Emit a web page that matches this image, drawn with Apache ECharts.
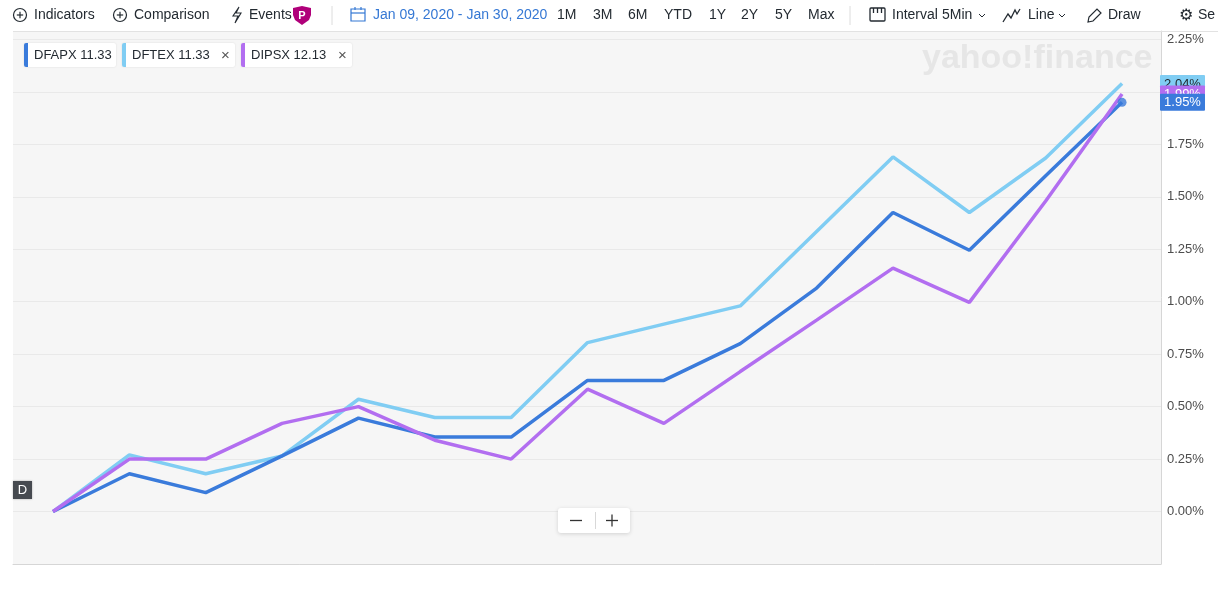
<!DOCTYPE html>
<html><head><meta charset="utf-8">
<script src="https://cdn.jsdelivr.net/npm/echarts@6/dist/echarts.min.js"></script>
<style>html,body{margin:0;padding:0;background:#fff}#c{width:1218px;height:608px}</style>
</head><body><div id="c"></div>
<script>
// ---- data ----
const dates = ['Jan 09','Jan 10','Jan 13','Jan 14','Jan 15','Jan 16','Jan 17','Jan 21','Jan 22','Jan 23','Jan 24','Jan 27','Jan 28','Jan 29','Jan 30'];
const DFAPX = [0, 0.18, 0.09, 0.265, 0.445, 0.355, 0.355, 0.625, 0.625, 0.80, 1.065, 1.425, 1.245, 1.60, 1.95];
const DFTEX = [0, 0.27, 0.18, 0.265, 0.535, 0.448, 0.448, 0.805, 0.893, 0.98, 1.335, 1.69, 1.425, 1.685, 2.04];
const DIPSX = [0, 0.25, 0.25, 0.42, 0.50, 0.34, 0.25, 0.583, 0.42, 0.667, 0.912, 1.16, 0.997, 1.48, 1.99];
const seriesNames = ['DFAPX', 'DFTEX', 'DIPSX'];
const prices = ['11.33', '11.33', '12.13'];
const yTickStep = 0.25;
const rangeButtons = ['1M','3M','6M','YTD','1Y','2Y','5Y','Max'];

const C_DFAPX = '#3a7bdb', C_DFTEX = '#80cdf3', C_DIPSX = '#b26ef0';
const FONT = '"Liberation Sans", Arial, sans-serif';
const TXT = '#232a31';

const pairs = arr => arr.map((v, i) => [i, v]);

const chart = echarts.init(document.getElementById('c'));

// ---- toolbar / decorations ----
const g = [];
function text(x, y, s, opt) {
  g.push(Object.assign({type:'text', x, y, style:Object.assign({text:s, fill:TXT, font:'14px ' + FONT, verticalAlign:'middle'}, opt||{}), z:10}));
}
function circlePlus(cx, cy) {
  g.push({type:'circle', shape:{cx, cy, r:6.5}, style:{fill:'none', stroke:TXT, lineWidth:1.2}, z:10});
  g.push({type:'line', shape:{x1:cx-3.2, y1:cy, x2:cx+3.2, y2:cy}, style:{stroke:TXT, lineWidth:1.2}, z:10});
  g.push({type:'line', shape:{x1:cx, y1:cy-3.2, x2:cx, y2:cy+3.2}, style:{stroke:TXT, lineWidth:1.2}, z:10});
}
const TY = 15;
circlePlus(20, TY); text(34, TY, 'Indicators');
circlePlus(120, TY); text(134, TY, 'Comparison');
// lightning
g.push({type:'polyline', shape:{points:[[239,7],[233,16],[238,16],[235,23],[241,13],[236,13],[239,7]]}, style:{fill:'none', stroke:TXT, lineWidth:1.1}, z:10});
text(249, TY, 'Events');
// shield P
g.push({type:'polygon', shape:{points:[[293,8],[302,6],[311,8],[311,15],[309,20],[302,25],[295,20],[293,15]]}, style:{fill:'#b0007a'}, z:10});
text(302, 15.5, 'P', {fill:'#fff', font:'bold 11px ' + FONT, align:'center'});
// separators
g.push({type:'line', shape:{x1:332, y1:6, x2:332, y2:25}, style:{stroke:'#dcdcdc', lineWidth:1}, z:10});
g.push({type:'line', shape:{x1:850, y1:6, x2:850, y2:25}, style:{stroke:'#dcdcdc', lineWidth:1}, z:10});
// calendar icon
g.push({type:'rect', shape:{x:351, y:9, width:14, height:12}, style:{fill:'none', stroke:'#3578d4', lineWidth:1.2}, z:10});
g.push({type:'line', shape:{x1:351, y1:13, x2:365, y2:13}, style:{stroke:'#3578d4', lineWidth:1.2}, z:10});
g.push({type:'line', shape:{x1:355, y1:7, x2:355, y2:10}, style:{stroke:'#3578d4', lineWidth:1.2}, z:10});
g.push({type:'line', shape:{x1:361, y1:7, x2:361, y2:10}, style:{stroke:'#3578d4', lineWidth:1.2}, z:10});
text(373, TY, 'Jan 09, 2020 - Jan 30, 2020', {fill:'#3578d4'});
const rbX = [557, 593, 628, 664, 709, 741, 775, 808];
rangeButtons.forEach((s, i) => text(rbX[i], TY, s));
// interval icon
g.push({type:'rect', shape:{x:870, y:8, width:15, height:13, r:1}, style:{fill:'none', stroke:TXT, lineWidth:1.3}, z:10});
[873.5, 877.5, 881.5].forEach(x => g.push({type:'line', shape:{x1:x, y1:8, x2:x, y2:13}, style:{stroke:TXT, lineWidth:1.3}, z:10}));
text(892, TY, 'Interval'); text(942, TY, '5Min');
g.push({type:'polyline', shape:{points:[[979,14],[982,17],[985,14]]}, style:{fill:'none', stroke:TXT, lineWidth:1}, z:10});
// line icon
g.push({type:'polyline', shape:{points:[[1003,22],[1008,14],[1011,18],[1015,10],[1017,14],[1020,9]]}, style:{fill:'none', stroke:TXT, lineWidth:1.3}, z:10});
text(1028, TY, 'Line');
g.push({type:'polyline', shape:{points:[[1059,14],[1062,17],[1065,14]]}, style:{fill:'none', stroke:TXT, lineWidth:1}, z:10});
// draw icon
g.push({type:'polygon', shape:{points:[[1088,22],[1089,17],[1097,9],[1101,13],[1093,21]]}, style:{fill:'none', stroke:TXT, lineWidth:1.2}, z:10});
text(1108, TY, 'Draw');
text(1179, 15.5, '\u2699', {font:'16px "DejaVu Sans"'});
text(1198, TY, 'Se');
// top separator
g.push({type:'line', shape:{x1:13, y1:31.5, x2:1218, y2:31.5}, style:{stroke:'#e2e2e2', lineWidth:1}, z:10});
// watermark
text(922, 59, 'yahoo!finance', {fill:'#e6e6e6', font:'bold 34px ' + FONT});
// legend chips
const chipX = [24, 122, 241], chipW = [92, 113, 111], chipC = [C_DFAPX, C_DFTEX, C_DIPSX];
seriesNames.forEach((n, i) => {
  g.push({type:'rect', shape:{x:chipX[i], y:43, width:chipW[i], height:24, r:2}, style:{fill:'#fff', shadowBlur:2, shadowColor:'rgba(0,0,0,0.12)'}, z:10});
  g.push({type:'rect', shape:{x:chipX[i], y:43, width:4, height:24, r:[2,0,0,2]}, style:{fill:chipC[i]}, z:11});
  text(chipX[i] + 10, 55.5, n + ' ' + prices[i], {font:'13px ' + FONT});
  if (i > 0) text(chipX[i] + chipW[i] - 14, 55.5, '\u00d7', {font:'15px ' + FONT, fill:'#555'});
});
// D badge
g.push({type:'rect', shape:{x:13, y:481, width:19, height:18}, style:{fill:'#464a50', shadowBlur:2, shadowColor:'rgba(0,0,0,0.3)'}, z:10});
text(22.5, 490.5, 'D', {fill:'#fff', font:'13px ' + FONT, align:'center'});
// zoom buttons
g.push({type:'rect', shape:{x:558, y:508, width:72, height:25, r:3}, style:{fill:'#fff', shadowBlur:4, shadowColor:'rgba(0,0,0,0.15)', shadowOffsetY:1}, z:10});
g.push({type:'line', shape:{x1:595.5, y1:512, x2:595.5, y2:529}, style:{stroke:'#d8d8d8', lineWidth:1}, z:11});
g.push({type:'line', shape:{x1:570, y1:520.5, x2:582, y2:520.5}, style:{stroke:'#333', lineWidth:1.3}, z:11});
g.push({type:'line', shape:{x1:606, y1:520.5, x2:618, y2:520.5}, style:{stroke:'#333', lineWidth:1.3}, z:11});
g.push({type:'line', shape:{x1:612, y1:514.5, x2:612, y2:526.5}, style:{stroke:'#333', lineWidth:1.3}, z:11});

const lineSeries = (name, data, color) => ({
  name, type:'line', data:pairs(data), symbol:'none', smooth:false,
  lineStyle:{color, width:3.5}, itemStyle:{color}, silent:true, animation:false
});

chart.setOption({
  animation:false,
  grid:{left:13, right:57, top:31, bottom:44, show:true, backgroundColor:'#f6f6f6', borderWidth:0},
  xAxis:{type:'value', min:-0.524, max:14.51, axisLine:{show:true, onZero:false, lineStyle:{color:'#d6d6d6'}},
    axisTick:{show:false}, axisLabel:{show:false}, splitLine:{show:false}},
  yAxis:{type:'value', position:'right', min:-0.25, max:2.29, interval:yTickStep,
    axisLine:{show:true, onZero:false, lineStyle:{color:'#d6d6d6'}}, axisTick:{show:false},
    axisLabel:{formatter:v => v.toFixed(2) + '%', color:'#4d4d4d', fontSize:13, fontFamily:FONT, margin:6, showMinLabel:false, showMaxLabel:false},
    splitLine:{lineStyle:{color:'#e9e9e9'}}},
  series:[
    lineSeries('DFTEX', DFTEX, C_DFTEX),
    lineSeries('DFAPX', DFAPX, C_DFAPX),
    lineSeries('DIPSX', DIPSX, C_DIPSX),
    {type:'scatter', data:[[DFAPX.length - 1, DFAPX[DFAPX.length - 1]]], symbolSize:9, itemStyle:{color:C_DFAPX}, z:5, silent:true}
  ],
  graphic:g
});

// end-value tags positioned through the chart's own scale
const tags = [[DFTEX, C_DFTEX, TXT], [DIPSX, C_DIPSX, '#fff'], [DFAPX, C_DFAPX, '#fff']];
const tg = [];
tags.forEach(([arr, col, tc], k) => {
  const last = arr[arr.length - 1];
  const p = chart.convertToPixel({gridIndex:0}, [arr.length - 1, last]);
  const x0 = chart.convertToPixel({gridIndex:0}, [14.51, 0])[0] - 1;
  tg.push({type:'rect', shape:{x:x0, y:p[1] - 8.5, width:45, height:17, r:1}, style:{fill:col}, z:20 + k * 2});
  tg.push({type:'text', x:x0 + 22.5, y:p[1] + 0.5, style:{text:last.toFixed(2) + '%', fill:tc, font:'13px ' + FONT, align:'center', verticalAlign:'middle'}, z:21 + k * 2});
});
chart.setOption({graphic:g.concat(tg)});
</script></body></html>
